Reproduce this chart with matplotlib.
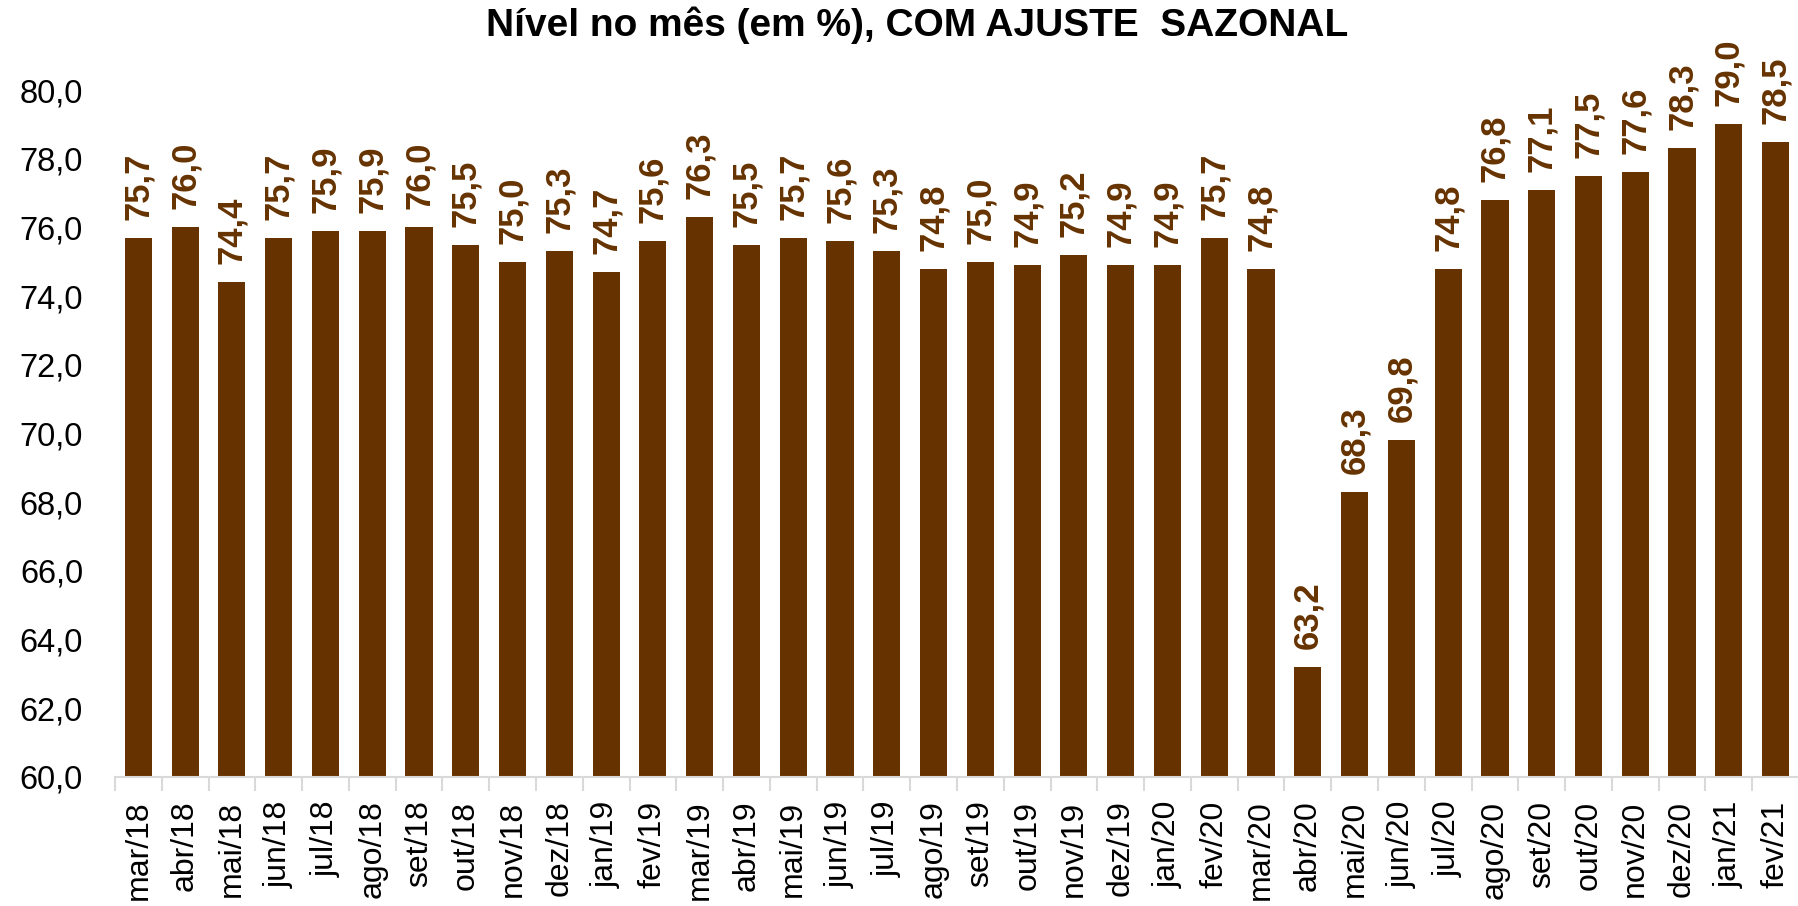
import numpy as np
import matplotlib.pyplot as plt
from matplotlib.ticker import FixedLocator, FuncFormatter

plt.rcParams['font.family'] = ['Liberation Sans', 'DejaVu Sans']

months = ['mar/18', 'abr/18', 'mai/18', 'jun/18', 'jul/18', 'ago/18', 'set/18', 'out/18',
          'nov/18', 'dez/18', 'jan/19', 'fev/19', 'mar/19', 'abr/19', 'mai/19', 'jun/19',
          'jul/19', 'ago/19', 'set/19', 'out/19', 'nov/19', 'dez/19', 'jan/20', 'fev/20',
          'mar/20', 'abr/20', 'mai/20', 'jun/20', 'jul/20', 'ago/20', 'set/20', 'out/20',
          'nov/20', 'dez/20', 'jan/21', 'fev/21']
nivel = [75.7, 76.0, 74.4, 75.7, 75.9, 75.9, 76.0, 75.5, 75.0, 75.3, 74.7, 75.6,
         76.3, 75.5, 75.7, 75.6, 75.3, 74.8, 75.0, 74.9, 75.2, 74.9, 74.9, 75.7,
         74.8, 63.2, 68.3, 69.8, 74.8, 76.8, 77.1, 77.5, 77.6, 78.3, 79.0, 78.5]
yticks = [60, 62, 64, 66, 68, 70, 72, 74, 76, 78, 80]

brown = '#663300'
fig = plt.figure(figsize=(17.99, 9.06), dpi=100)
ax = fig.add_axes([0.0639, 0.1424, 0.9361, 0.7582])

x = np.arange(len(months))
ax.bar(x, nivel, width=0.58, color=brown)
ax.set_ylim(60, 80)
ax.set_xlim(-0.5, len(months) - 0.5)

# rotulos de valor acima das barras
for xi, v in zip(x, nivel):
    ax.annotate(f'{v:.1f}'.replace('.', ','), (xi, v), xytext=(0, 13),
                textcoords='offset points', rotation=90, ha='center', va='bottom',
                fontsize=25, fontweight='bold', color=brown, annotation_clip=False)

ax.set_yticks(yticks)
ax.yaxis.set_major_formatter(FuncFormatter(lambda v, p: f'{v:.1f}'.replace('.', ',')))
ax.tick_params(axis='y', length=0, pad=23, labelsize=23.5)

ax.set_xticks(x)
ax.set_xticklabels(months, rotation=90, fontsize=23)
ax.tick_params(axis='x', which='major', length=0, pad=17)
ax.xaxis.set_minor_locator(FixedLocator(np.arange(-0.5, len(months), 1)))
ax.tick_params(axis='x', which='minor', length=10, width=1.5, color='#d9d9d9')

for s in ['top', 'right', 'left']:
    ax.spines[s].set_visible(False)
ax.spines['bottom'].set_color('#d9d9d9')
ax.spines['bottom'].set_linewidth(1.5)

fig.text(0.51, 0.972, 'Nível no mês (em %), COM AJUSTE  SAZONAL', ha='center', va='center',
         fontsize=28, fontweight='bold')

fig.savefig('out.png', dpi=100)
